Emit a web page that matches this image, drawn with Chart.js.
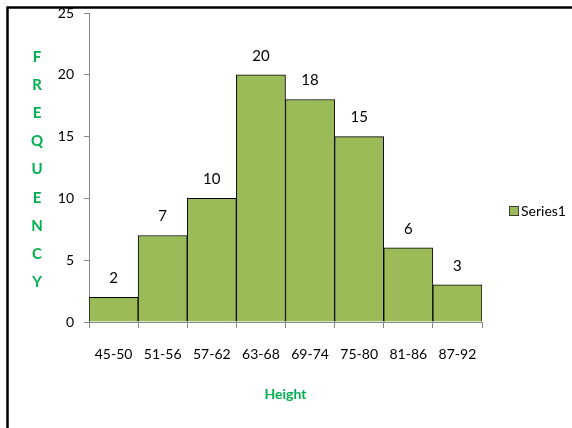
<!DOCTYPE html>
<html>
<head>
<meta charset="utf-8">
<style>
  html, body { margin: 0; padding: 0; background: #fff; }
  #wrap { width: 572px; height: 428px; position: relative; }
</style>
<script src="https://cdn.jsdelivr.net/npm/chart.js@4/dist/chart.umd.min.js"></script>
</head>
<body>
<div id="wrap"><canvas id="chart" width="572" height="428"></canvas></div>
<script>
// Height classes and how many fall in each
const categories = ['45-50', '51-56', '57-62', '63-68', '69-74', '75-80', '81-86', '87-92'];
const frequency = [2, 7, 10, 20, 18, 15, 6, 3];
const yTicks = [0, 5, 10, 15, 20, 25];
const seriesName = 'Series1';
const xTitle = 'Height';
const yTitle = 'FREQUENCY';

const FONT = 'Lato, "Open Sans", sans-serif';
const BAR = '#9BBB59';
const GREEN = '#00B050';
const AXIS = '#888888';

// Outer frame around the whole chart
const framePlugin = {
  id: 'frame',
  afterDraw(chart) {
    const ctx = chart.ctx;
    ctx.save();
    ctx.strokeStyle = '#000';
    ctx.lineWidth = 2.5;
    ctx.beginPath();
    ctx.moveTo(7.5, 440);
    ctx.lineTo(7.5, 7.5);
    ctx.lineTo(600, 7.5);
    ctx.stroke();
    ctx.restore();
  }
};

// Value printed above each bar
const valueLabels = {
  id: 'valueLabels',
  afterDatasetsDraw(chart) {
    const ctx = chart.ctx;
    const meta = chart.getDatasetMeta(0);
    const data = chart.data.datasets[0].data;
    ctx.save();
    ctx.fillStyle = '#000';
    ctx.font = '15px ' + FONT;
    ctx.textAlign = 'center';
    ctx.textBaseline = 'middle';
    meta.data.forEach((bar, i) => {
      ctx.fillText(String(data[i]), bar.x, bar.y - 19);
    });
    ctx.restore();
  }
};

// Vertical letter-stacked axis title on the left
const stackedTitle = {
  id: 'stackedTitle',
  afterDraw(chart) {
    const ctx = chart.ctx;
    const area = chart.chartArea;
    const letters = yTitle.split('');
    const step = 28.2;
    const mid = (area.top + area.bottom) / 2 + 2;
    const start = mid - step * (letters.length - 1) / 2;
    ctx.save();
    ctx.fillStyle = GREEN;
    ctx.font = 'bold 15px ' + FONT;
    ctx.textAlign = 'center';
    ctx.textBaseline = 'middle';
    letters.forEach((ch, i) => ctx.fillText(ch, 37, start + i * step));
    ctx.restore();
  }
};

// Legend entry to the right of the plot
const sideLegend = {
  id: 'sideLegend',
  afterDraw(chart) {
    const ctx = chart.ctx;
    const ds = chart.data.datasets[0];
    ctx.save();
    ctx.fillStyle = ds.backgroundColor;
    ctx.fillRect(509, 206, 10, 10);
    ctx.strokeStyle = '#3a3a3a';
    ctx.lineWidth = 1;
    ctx.strokeRect(509.5, 206.5, 9, 9);
    ctx.fillStyle = '#000';
    ctx.font = '14px ' + FONT;
    ctx.textAlign = 'left';
    ctx.textBaseline = 'middle';
    ctx.fillText(ds.label, 521, 211.5);
    ctx.restore();
  }
};

new Chart(document.getElementById('chart'), {
  type: 'bar',
  data: {
    labels: categories,
    datasets: [{
      label: seriesName,
      data: frequency,
      backgroundColor: BAR,
      borderColor: '#000',
      borderWidth: 1,
      categoryPercentage: 1.0,
      barPercentage: 1.0
    }]
  },
  options: {
    responsive: false,
    animation: false,
    layout: { padding: { left: 0, top: 13, right: 90, bottom: 0 } },
    plugins: {
      legend: { display: false },
      tooltip: { enabled: false }
    },
    scales: {
      x: {
        grid: { display: true, drawOnChartArea: false, offset: true, color: AXIS, tickLength: 6 },
        border: { display: true, color: AXIS, width: 1 },
        ticks: { color: '#000', font: { family: FONT, size: 14 }, padding: 18, maxRotation: 0 },
        title: { display: true, text: xTitle, color: GREEN, font: { family: FONT, size: 14, weight: 'bold' }, padding: { top: 0, bottom: 25 } },
        afterFit(scale) { scale.height = 106; }
      },
      y: {
        min: 0,
        max: 25,
        afterBuildTicks(scale) { scale.ticks = yTicks.map(v => ({ value: v })); },
        grid: { display: true, drawOnChartArea: false, color: AXIS, tickLength: 5 },
        border: { display: true, color: AXIS, width: 1 },
        ticks: { color: '#000', font: { family: FONT, size: 14 }, padding: 10 },
        afterFit(scale) {
          scale.width = 89;
          scale.paddingTop = 0;
          scale.paddingBottom = 0;
        }
      }
    }
  },
  plugins: [framePlugin, valueLabels, stackedTitle, sideLegend]
});
</script>
</body>
</html>
